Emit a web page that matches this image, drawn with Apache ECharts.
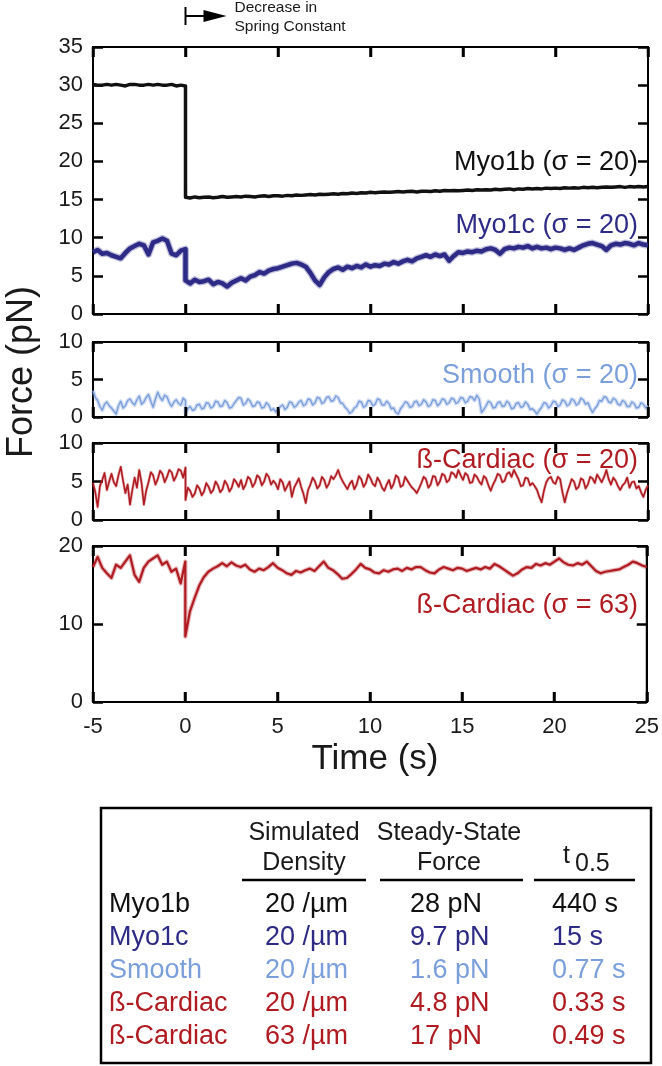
<!DOCTYPE html>
<html><head><meta charset="utf-8">
<script src="https://cdn.jsdelivr.net/npm/echarts@6/dist/echarts.min.js"></script>
<style>html,body{margin:0;padding:0;background:#fff}#c{width:662px;height:1066px}</style>
</head><body><div id="c"></div>
<script>
// ---- sampling of the traces (seconds) ----
const T_START = -5;
const STEP = 0.25;       // coarse traces
const STEP_FINE = 0.125; // noisy traces

// ---- x axis ticks ----
const xTicks = [-5, 0, 5, 10, 15, 20, 25];

// ---- y ranges per panel ----
const panelYMax = [35, 10, 10, 20];
const panelYInterval = [5, 5, 5, 10];

// ---- traces: values before the switch (-5..0 s) and after (0..25 s) ----
const myo1bPre = [30.1,30.0,30.0,30.1,30.0,30.1,30.0,29.9,30.1,30.1,30.0,30.0,30.1,30.0,30.1,30.0,30.0,30.1,29.9,30.0,29.9];
const myo1bPost = [
15.3,15.2,15.35,15.25, 15.3,15.35,15.25,15.3, 15.4,15.3,15.35,15.4, 15.35,15.45,15.4,15.35, 15.45,15.5,15.4,15.5,
15.5,15.45,15.55,15.5, 15.6,15.55,15.6,15.65, 15.6,15.7,15.65,15.7, 15.75,15.7,15.8,15.75, 15.85,15.8,15.9,15.85,
15.95,15.9,15.95,16.0, 15.95,16.0,16.05,16.0, 16.05,16.1,16.0,16.1, 16.1,16.05,16.15,16.1, 16.2,16.15,16.2,16.15,
16.2,16.25,16.2,16.3, 16.25,16.3,16.25,16.35, 16.3,16.35,16.4,16.3, 16.4,16.35,16.45,16.4, 16.45,16.4,16.5,16.45,
16.5,16.45,16.55,16.5, 16.55,16.5,16.6,16.55, 16.6,16.55,16.6,16.65, 16.6,16.65,16.7,16.6, 16.7,16.65,16.7,16.65,
16.7];

const myo1cPre = [8.1,8.4,7.9,8.0,7.7,7.5,7.3,8.0,8.6,8.9,9.2,9.0,7.8,9.4,9.6,9.9,9.6,7.9,7.7,8.3,8.5];
const myo1cPost = [
4.4,4.0,4.5,4.2, 4.3,4.5,3.9,4.2, 4.0,3.6,4.1,4.4, 4.7,4.4,4.9,5.1, 5.5,5.3,5.7,5.9,
6.0,6.2,6.4,6.6, 6.7,6.5,6.2,5.4, 4.4,3.8,4.8,5.5, 5.9,6.1,5.8,6.2, 6.0,6.3,6.1,6.5,
6.2,6.4,6.3,6.6, 6.5,6.8,6.6,6.9, 7.1,6.9,7.3,7.5, 7.7,7.5,7.8,7.6, 7.8,7.0,7.6,8.1,
8.0,8.2,8.1,8.3, 8.2,8.5,8.6,8.4, 7.9,8.5,8.7,8.6, 8.8,8.7,8.9,8.6, 8.8,8.6,8.7,8.5,
8.7,8.6,8.4,8.6, 8.4,8.7,9.0,9.2, 9.3,9.1,8.9,8.4, 9.0,9.2,9.1,9.3, 9.2,9.0,9.3,9.1,
9.0];

const smoothPre = [3.5,2.6,2.2,1.4,0.9,1.7,2.0,1.5,1.2,0.8,0.4,1.5,2.1,1.2,1.5,2.2,2.4,1.9,1.6,2.3,2.8,1.7,2.0,2.6,3.0,2.1,1.3,2.4,3.3,2.6,2.2,2.9,2.7,1.9,1.4,2.0,2.3,1.8,1.6,2.5,2.2];
const smoothPost = [
0.5,1.1,1.4,0.9,1.0,1.6,1.7,1.1, 1.2,1.9,1.8,1.2,1.4,2.1,2.0,1.4, 1.5,2.2,1.9,1.2,1.3,1.8,2.2,2.6,
2.5,1.6,1.8,2.4,2.1,1.4,1.5,2.0, 1.9,1.2,1.3,1.9,1.6,0.9,1.1,0.7, 1.0,1.4,1.6,1.0,1.3,2.0,1.9,1.3,
1.5,2.0,2.2,1.5,1.7,2.4,2.3,1.6, 1.9,2.6,2.5,1.8,2.0,2.6,2.7,2.1, 2.2,2.8,2.6,1.9,1.8,1.3,1.0,0.5,
0.7,1.2,1.4,2.1,2.0,1.3,1.5,2.2, 2.1,1.5,1.7,2.4,2.3,1.6,1.6,2.1, 1.8,1.1,1.2,0.6,0.4,1.1,1.5,2.0,
1.9,1.3,1.4,2.0,2.1,1.5,1.7,2.3, 2.0,1.4,1.6,2.3,2.2,1.5,1.8,2.4, 2.3,1.7,1.9,2.5,2.4,1.8,2.0,2.6,
2.5,1.9,2.1,2.7,2.6,2.2,2.9,2.4, 0.6,1.0,1.5,2.1,1.9,1.2,1.3,1.9, 2.0,1.4,1.5,2.1,1.8,1.1,1.2,1.8,
1.9,1.3,1.4,2.0,1.7,1.0,1.1,0.8, 0.4,0.9,1.3,1.9,1.8,1.2,1.5,2.1, 2.0,1.4,1.6,2.3,2.1,1.5,1.7,2.4,
2.2,1.6,1.8,2.5,2.3,1.7,1.9,1.2, 0.6,1.1,1.5,2.2,2.1,2.7,2.6,2.0, 1.9,2.5,2.3,1.7,1.6,2.2,2.0,1.4,
1.4,2.0,1.8,1.2,1.3,1.9,1.7,1.2,
1.5];

const cardiac20Pre = [4.8,3.6,1.7,4.4,5.2,6.1,3.9,5.0,6.0,4.9,4.4,5.8,6.9,5.1,3.5,4.6,2.0,3.9,5.5,4.2,6.5,4.8,2.0,3.8,4.9,6.2,5.8,4.6,5.3,6.4,6.0,4.9,5.6,6.5,6.2,5.1,5.7,6.6,6.4,5.5,6.8];
const cardiac20Post = [
2.6,4.2,3.8,3.0,3.4,4.5,4.1,3.2, 3.7,4.8,4.3,3.5,3.9,5.0,4.5,3.6, 4.0,5.1,4.6,3.7,4.2,5.3,4.9,4.3,
5.2,4.0,4.6,5.6,5.3,4.3,4.8,5.8, 5.5,4.5,5.0,6.0,5.6,4.6,5.1,4.7, 4.0,5.3,4.9,3.8,4.4,5.0,3.0,4.2,
4.8,5.4,4.3,3.4,2.2,3.9,4.6,5.5, 5.0,4.1,4.5,5.6,5.2,4.2,4.7,5.7, 5.3,5.8,6.5,5.6,5.0,4.5,4.0,4.7,
5.1,4.0,4.6,5.7,5.3,4.3,4.8,5.9, 5.4,4.7,4.4,5.5,5.0,4.2,3.8,4.6, 5.2,4.1,4.7,5.8,5.5,4.3,4.5,5.6,
5.1,4.6,4.2,3.9,3.5,4.1,4.8,5.6, 5.3,4.2,4.6,5.7,5.6,4.5,5.0,6.0, 5.8,4.9,5.2,6.2,6.0,5.5,6.5,5.8,
5.2,6.1,5.8,4.8,4.9,5.9,5.6,5.0, 4.6,5.7,5.4,4.5,3.8,4.6,5.2,6.0, 5.8,4.9,5.1,6.0,6.2,5.6,6.5,5.9,
5.3,4.4,4.5,5.5,5.4,4.5,4.8,4.4, 3.9,3.0,2.3,3.8,4.9,5.4,5.6,4.9, 4.7,5.6,5.3,3.6,2.3,3.5,4.4,5.3,
5.0,4.0,4.3,5.4,5.2,4.1,4.6,5.6, 5.4,4.8,5.9,5.4,4.9,5.6,6.5,5.3, 4.6,5.5,5.1,4.4,3.9,4.5,4.8,5.5,
4.2,4.9,5.0,4.1,4.4,3.6,3.0,3.9,
4.5];

const cardiac63Pre = [17.3,18.6,17.2,16.5,15.9,17.6,17.2,18.0,18.8,16.3,15.4,17.2,18.0,18.4,18.8,17.6,18.0,16.7,17.1,15.2,18.0];
const cardiac63Post = [
8.4,11.6,13.3,14.9, 16.0,16.7,17.1,17.4, 17.8,17.4,17.9,17.5, 17.3,17.6,17.0,16.7, 17.1,16.9,17.3,17.8,
17.2,16.9,16.5,16.3, 16.8,16.6,16.9,17.1, 16.8,17.4,18.0,17.2, 16.9,16.4,15.8,15.9, 16.4,17.0,17.7,17.2,
17.0,16.6,16.5,16.9, 16.7,17.0,17.1,16.8, 17.2,17.0,17.3,17.3, 16.9,16.6,16.5,17.0, 17.3,17.1,16.9,17.2,
17.1,16.8,17.0,17.2, 17.0,17.3,17.1,17.7, 17.4,17.0,16.6,16.2, 16.5,17.0,17.3,17.2, 17.7,17.5,17.8,17.6,
18.0,18.4,17.9,17.6, 17.5,17.8,17.6,18.0, 17.4,16.8,16.5,16.7, 16.8,16.9,17.0,17.3, 17.6,18.0,17.8,17.5,
17.3];

// ---- labels ----
const traceLabels = ['Myo1b (σ = 20)', 'Myo1c (σ = 20)', 'Smooth (σ = 20)', 'ß-Cardiac (σ = 20)', 'ß-Cardiac (σ = 63)'];
const annotationLines = ['Decrease in', 'Spring Constant'];
const xTitle = 'Time (s)';
const yTitle = 'Force (pN)';

// ---- table ----
const tableHeader1 = ['Simulated', 'Steady-State'];
const tableHeader2 = ['Density', 'Force'];
const tableNames = ['Myo1b', 'Myo1c', 'Smooth', 'ß-Cardiac', 'ß-Cardiac'];
const tableDensity = ['20 /µm', '20 /µm', '20 /µm', '20 /µm', '63 /µm'];
const tableForce = ['28 pN', '9.7 pN', '1.6 pN', '4.8 pN', '17 pN'];
const tableT05 = ['440 s', '15 s', '0.77 s', '0.33 s', '0.49 s'];

const C_BLACK = '#111111', C_MYO1C = '#2e2b87', C_SMOOTH = '#7b9fdb', C_CARD = '#b01b21';
const rowColors = [C_BLACK, C_MYO1C, C_SMOOTH, C_CARD, C_CARD];
const FONT = '"Liberation Sans", Arial, Helvetica, sans-serif';

function toPairs(pre, post, step) {
  const out = [];
  pre.forEach((v, i) => out.push([T_START + i * step, v]));
  post.forEach((v, i) => out.push([i * step, v]));
  return out;
}

const grids = [
  {left: 93, width: 555, top: 47, height: 267},
  {left: 93, width: 555, top: 342, height: 75},
  {left: 93, width: 555, top: 443, height: 77},
  {left: 93, width: 555, top: 546, height: 156}
].map(g => Object.assign(g, {show: true, borderColor: '#000', borderWidth: 2, backgroundColor: 'transparent'}));

const tickStyle = {color: '#000', width: 2.5};
const xAxes = [], yAxes = [];
grids.forEach((g, i) => {
  ['bottom', 'top'].forEach(pos => {
    xAxes.push({
      gridIndex: i, type: 'value', position: pos, min: xTicks[0], max: xTicks[xTicks.length - 1], interval: 5,
      axisLine: {show: true, onZero: false, lineStyle: {color: '#000', width: 2}}, splitLine: {show: false},
      axisTick: {show: true, inside: true, length: 10, lineStyle: tickStyle},
      axisLabel: {show: pos === 'bottom' && i === 3, margin: 14, fontSize: 22, color: '#1a1a1a', fontFamily: FONT,
        showMinLabel: true, showMaxLabel: true}
    });
  });
  ['left', 'right'].forEach(pos => {
    yAxes.push({
      gridIndex: i, type: 'value', position: pos, min: 0, max: panelYMax[i], interval: panelYInterval[i],
      axisLine: {show: true, onZero: false, lineStyle: {color: '#000', width: 2}}, splitLine: {show: false},
      axisTick: {show: true, inside: true, length: 10, lineStyle: tickStyle},
      axisLabel: {show: pos === 'left', margin: 10, fontSize: 22, color: '#1a1a1a', fontFamily: FONT,
        showMinLabel: true, showMaxLabel: true}
    });
  });
});

function lineSeries(data, panel, color, width, opacity, z) {
  return {type: 'line', data, xAxisIndex: panel * 2, yAxisIndex: panel * 2, showSymbol: false, symbol: 'none',
    lineStyle: {color, width, join: 'round', opacity: opacity == null ? 1 : opacity}, animation: false, silent: true, z: z || 3};
}

const myo1cData = toPairs(myo1cPre, myo1cPost, STEP);
const smoothData = toPairs(smoothPre, smoothPost, STEP_FINE);
const card20Data = toPairs(cardiac20Pre, cardiac20Post, STEP_FINE);
const card63Data = toPairs(cardiac63Pre, cardiac63Post, STEP);
const series = [
  lineSeries(toPairs(myo1bPre, myo1bPost, STEP), 0, C_BLACK, 3.5),
  lineSeries(myo1cData, 0, C_MYO1C, 7, 0.3, 2),
  lineSeries(myo1cData, 0, C_MYO1C, 4.5),
  lineSeries(smoothData, 1, C_SMOOTH, 4, 0.35, 2),
  lineSeries(smoothData, 1, C_SMOOTH, 1.4),
  lineSeries(card20Data, 2, C_CARD, 3, 0.3, 2),
  lineSeries(card20Data, 2, C_CARD, 1.6),
  lineSeries(card63Data, 3, C_CARD, 4.5, 0.3, 2),
  lineSeries(card63Data, 3, C_CARD, 2.2)
];

function txt(text, x, y, size, color, align, extra) {
  return Object.assign({type: 'text', x, y, silent: true, z: 100,
    style: {text, fill: color, font: size + 'px ' + FONT, textAlign: align || 'left', textVerticalAlign: 'middle'}}, extra || {});
}

const chart = echarts.init(document.getElementById('c'), null, {renderer: 'canvas'});
chart.setOption({animation: false, grid: grids, xAxis: xAxes, yAxis: yAxes, series});

const graphic = [];
// inward x ticks on top and bottom frame of every panel, placed through the axis scales
grids.forEach((g, i) => {
  const yTop = chart.convertToPixel({yAxisIndex: i * 2}, panelYMax[i]);
  const yBot = chart.convertToPixel({yAxisIndex: i * 2}, 0);
  xTicks.forEach(t => {
    const px = Math.round(chart.convertToPixel({xAxisIndex: i * 2}, t));
    graphic.push({type: 'line', silent: true, z: 100, shape: {x1: px, y1: yTop, x2: px, y2: yTop + 10}, style: {stroke: '#000', lineWidth: 2.5}});
    graphic.push({type: 'line', silent: true, z: 100, shape: {x1: px, y1: yBot, x2: px, y2: yBot - 10}, style: {stroke: '#000', lineWidth: 2.5}});
  });
});

// annotation anchored at t = 0 through the axis scale
const x0 = chart.convertToPixel({xAxisIndex: 0}, 0);
graphic.push({type: 'line', z: 100, shape: {x1: x0, y1: 7, x2: x0, y2: 25}, style: {stroke: '#000', lineWidth: 2}});
graphic.push({type: 'line', z: 100, shape: {x1: x0, y1: 16, x2: x0 + 20, y2: 16}, style: {stroke: '#000', lineWidth: 2}});
graphic.push({type: 'polygon', z: 100, shape: {points: [[x0 + 18, 10], [x0 + 41, 16], [x0 + 18, 22]]}, style: {fill: '#000'}});
graphic.push(txt(annotationLines[0], x0 + 49, 8, 15.5, '#1a1a1a'));
graphic.push(txt(annotationLines[1], x0 + 49, 26.5, 15.5, '#1a1a1a'));

// trace labels
const labelColors = [C_BLACK, C_MYO1C, C_SMOOTH, C_CARD, C_CARD];
const labelY = [163, 226, 376, 461, 606];
traceLabels.forEach((t, i) => graphic.push(txt(t, 638, labelY[i], 27, labelColors[i], 'right')));

// axis titles
graphic.push(txt(yTitle, 22, 372, 36, '#1a1a1a', 'center', {rotation: Math.PI / 2}));
graphic.push(txt(xTitle, 375, 759, 35, '#1a1a1a', 'center'));

// table
graphic.push({type: 'rect', z: 100, shape: {x: 101, y: 808, width: 550, height: 255}, style: {fill: 'rgba(0,0,0,0)', stroke: '#000', lineWidth: 2.5}});
const hdrCx = [304, 449];
tableHeader1.forEach((t, i) => graphic.push(txt(t, hdrCx[i], 833.5, 25, '#1a1a1a', 'center')));
tableHeader2.forEach((t, i) => graphic.push(txt(t, hdrCx[i], 863, 25, '#1a1a1a', 'center')));
graphic.push(txt('t', 563, 856, 25, '#1a1a1a', 'left'));
graphic.push(txt('0.5', 575, 864, 25, '#1a1a1a', 'left'));
[[242, 366], [380, 523], [534, 635]].forEach(s => graphic.push({type: 'line', z: 100, shape: {x1: s[0], y1: 880, x2: s[1], y2: 880}, style: {stroke: '#000', lineWidth: 2.5}}));
const rowY = [904.5, 938, 970.5, 1003.5, 1036.5];
tableNames.forEach((n, i) => {
  graphic.push(txt(n, 109, rowY[i], 27, rowColors[i]));
  graphic.push(txt(tableDensity[i], 265, rowY[i], 27, rowColors[i]));
  graphic.push(txt(tableForce[i], 410, rowY[i], 27, rowColors[i]));
  graphic.push(txt(tableT05[i], 552, rowY[i], 27, rowColors[i]));
});

chart.setOption({graphic});
</script></body></html>
